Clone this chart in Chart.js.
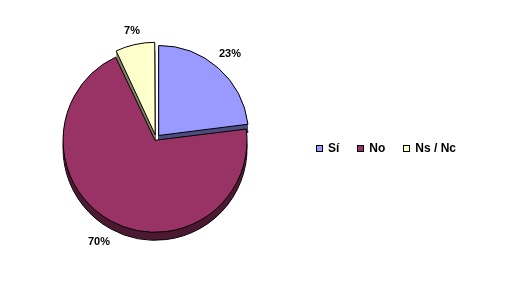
<!DOCTYPE html>
<html><head><meta charset="utf-8">
<script src="https://cdn.jsdelivr.net/npm/chart.js@4/dist/chart.umd.min.js"></script>
<style>
html,body{margin:0;padding:0;background:#fff;}
#wrap{position:relative;width:530px;height:288px;overflow:hidden;}
#c{position:absolute;left:0;top:0;}
#legend{position:absolute;left:316px;top:142px;display:flex;gap:18px;font:bold 12px "Liberation Sans",Arial,sans-serif;line-height:12px;color:#000;white-space:nowrap;}
.item{display:flex;align-items:baseline;}
.box{display:inline-block;width:5px;height:5px;border:1px solid #000;margin-right:5px;}
</style></head><body>
<div id="wrap"><canvas id="c" width="530" height="288"></canvas><div id="legend"></div></div>
<script>
const categories = ['Sí', 'No', 'Ns / Nc'];
const values = [23, 70, 7];
const valueLabels = values.map(v => v + '%');
const topColors = ['#9999FF', '#993366', '#FFFFCC'];
const sideColors = ['#4D4D80', '#4D1A33', '#808066'];
const explode = [16, 8, 16];

const DEPTH = 8;
const depthPlugin = {
  id: 'depth',
  beforeDatasetsDraw(chart) {
    const meta = chart.getDatasetMeta(0);
    const ctx = chart.ctx;
    for (let dy = DEPTH; dy >= 1; dy--) {
      meta.data.forEach((arc, i) => {
        const saved = arc.options;
        arc.options = Object.assign({}, saved, {
          backgroundColor: sideColors[i],
          borderColor: '#000',
          borderWidth: dy === DEPTH ? 1 : 0
        });
        ctx.save();
        ctx.translate(0, dy);
        arc.draw(ctx);
        ctx.restore();
        arc.options = saved;
      });
    }
  }
};

const labelPlugin = {
  id: 'pctLabels',
  afterDatasetsDraw(chart) {
    const meta = chart.getDatasetMeta(0);
    const ctx = chart.ctx;
    ctx.save();
    ctx.font = 'bold 11px "Liberation Sans", Arial, sans-serif';
    ctx.fillStyle = '#000';
    ctx.textAlign = 'center';
    ctx.textBaseline = 'middle';
    meta.data.forEach((arc, i) => {
      const half = (arc.startAngle + arc.endAngle) / 2;
      const off = (arc.options.offset || 0) / 4;
      const circ = arc.endAngle - arc.startAngle;
      const fix = 1 - Math.sin(Math.min(Math.PI, circ));
      const R = arc.outerRadius + off * fix;
      const cx = arc.x + Math.cos(half) * off;
      const cy = arc.y + Math.sin(half) * off;
      const w = ctx.measureText(valueLabels[i]).width;
      const h = 8;
      const ext = Math.abs(Math.cos(half)) * w / 2 + Math.abs(Math.sin(half)) * h / 2;
      const d = R + 8 + ext + DEPTH * Math.max(0, Math.sin(half));
      ctx.fillText(valueLabels[i], Math.round(cx + Math.cos(half) * d), Math.round(cy + Math.sin(half) * d));
    });
    ctx.restore();
  }
};

new Chart(document.getElementById('c'), {
  type: 'pie',
  data: {
    labels: categories,
    datasets: [{
      data: values,
      backgroundColor: topColors,
      borderColor: '#000',
      borderWidth: 1,
      offset: explode,
      radius: 90
    }]
  },
  options: {
    responsive: false,
    devicePixelRatio: 1,
    animation: false,
    layout: { padding: { left: 0, right: 218, top: 0, bottom: 11 } },
    plugins: { legend: { display: false }, tooltip: { enabled: false } }
  },
  plugins: [depthPlugin, labelPlugin]
});

const lg = document.getElementById('legend');
categories.forEach((c, i) => {
  const it = document.createElement('span');
  it.className = 'item';
  const b = document.createElement('span');
  b.className = 'box';
  b.style.background = topColors[i];
  it.appendChild(b);
  it.appendChild(document.createTextNode(c));
  lg.appendChild(it);
});
</script>
</body></html>
